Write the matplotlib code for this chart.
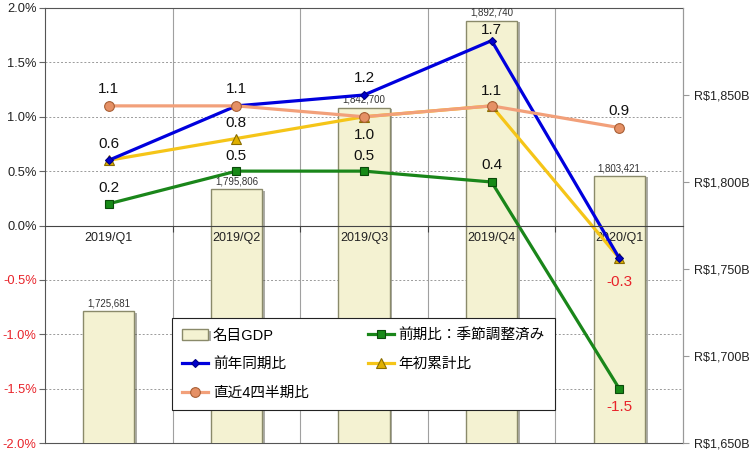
import matplotlib
matplotlib.use('Agg')
import matplotlib.pyplot as plt
import matplotlib.patheffects as pe

plt.rcParams['font.family'] = ['Liberation Sans', 'Noto Sans CJK JP', 'DejaVu Sans']

# data
categories = ['2019/Q1', '2019/Q2', '2019/Q3', '2019/Q4', '2020/Q1']
gdp = [1725681, 1795806, 1842700, 1892740, 1803421]   # R$ millions
qoq_sa = [0.2, 0.5, 0.5, 0.4, -1.5]
yoy = [0.6, 1.1, 1.2, 1.7, -0.3]
ytd = [0.6, 0.8, 1.0, 1.1, -0.3]
last4q = [1.1, 1.1, 1.0, 1.1, 0.9]
pct_ticks = [-2.0, -1.5, -1.0, -0.5, 0.0, 0.5, 1.0, 1.5, 2.0]
gdp_ticks = [1650000, 1700000, 1750000, 1800000, 1850000]

name_gdp = '名目GDP'
name_qoq = '前期比：季節調整済み'
name_yoy = '前年同期比'
name_ytd = '年初累計比'
name_l4q = '直近4四半期比'

# label offsets in points (None = no label)
off_yoy = [12, 12, 12, 8, -17]
off_ytd = [None, 11, -13, None, None]
off_l4q = [12, None, None, 11, 12]
off_qoq = [11, 11, 11, 12, -13]

x = list(range(len(categories)))

fig = plt.figure(figsize=(7.51, 4.65), dpi=100)
ax = fig.add_axes([0.0599, 0.0473, 0.8496, 0.9355])
ax.set_xlim(-0.5, 4.5)
ax.set_ylim(-2.0, 2.0)
ax.set_yticks(pct_ticks, labels=['{:.1f}%'.format(v) for v in pct_ticks])
for lbl, v in zip(ax.get_yticklabels(), pct_ticks):
    lbl.set_color('#e8232a' if v < 0 else '#222222')
ax.tick_params(axis='y', length=4, color='#666666', labelsize=9.3, pad=2)
ax.set_xticks([0.5, 1.5, 2.5, 3.5])
ax.tick_params(axis='x', which='both', bottom=False, labelbottom=False)
ax.grid(axis='x', color='#a0a0a0', lw=0.8, ls='-')
ax.grid(axis='y', color='#9a9a9a', lw=0.7, ls=(0, (2, 2)))
for s in ax.spines.values():
    s.set_color('#555555')
ax.spines['right'].set_color('#999999')

# bars on the right axis
ax2 = ax.twinx()
ax2.set_ylim(1650000, 1900000)
bars = ax2.bar(x, gdp, width=0.4, color='#f4f2d2', edgecolor='#8a8a6a', lw=1.0,
               label=name_gdp,
               path_effects=[pe.SimplePatchShadow(offset=(2, -1), alpha=0.45), pe.Normal()])
ax2.bar_label(bars, labels=['{:,}'.format(v) for v in gdp], fontsize=7, padding=2, color='#333333')
ax2.set_yticks(gdp_ticks, labels=['R${:,.0f}B'.format(v / 1000) for v in gdp_ticks])
ax2.tick_params(axis='y', length=4, color='#999999', labelsize=9, pad=4, labelcolor='#222222')
for k in ['top', 'left', 'bottom']:
    ax2.spines[k].set_visible(False)
ax2.spines['right'].set_color('#999999')

# lines on top layer
ax3 = ax.twinx()
ax3.set_ylim(-2.0, 2.0)
ax3.yaxis.set_visible(False)
ax3.xaxis.set_visible(True)
for k in ['top', 'left', 'right']:
    ax3.spines[k].set_visible(False)
ax3.spines['bottom'].set_position(('data', 0))
ax3.spines['bottom'].set_color('#444444')
ax3.set_xticks(x, labels=categories, minor=True)
ax3.tick_params(axis='x', which='minor', length=0, labelsize=9, pad=5, labelcolor='#222222')
ax3.tick_params(axis='x', which='major', length=4, direction='out', color='#444444', labelbottom=False)

l_ytd, = ax3.plot(x, ytd, color='#f5c518', lw=2.3, marker='^', ms=6.5,
                  mfc='#e0b000', mec='#8a6d00', mew=0.8, label=name_ytd)
l_yoy, = ax3.plot(x, yoy, color='#0000dd', lw=2.3, marker='D', ms=4.5,
                  mfc='#0000cc', mec='#000080', mew=0.8, label=name_yoy)
l_l4q, = ax3.plot(x, last4q, color='#f2a07a', lw=2.3, marker='o', ms=7,
                  mfc='#e59065', mec='#a85f35', mew=0.8, label=name_l4q)
l_qoq, = ax3.plot(x, qoq_sa, color='#1a861a', lw=2.3, marker='s', ms=5.5,
                  mfc='#178a17', mec='#0a4a0a', mew=0.8, label=name_qoq)

for vals, offs in [(yoy, off_yoy), (ytd, off_ytd), (last4q, off_l4q), (qoq_sa, off_qoq)]:
    for i, (v, o) in enumerate(zip(vals, offs)):
        if o is None:
            continue
        ax3.annotate('{:.1f}'.format(v), (i, v), xytext=(0, o), textcoords='offset points',
                     ha='center', va='center', fontsize=11,
                     color='#e8232a' if v < 0 else '#111111')

leg = ax3.legend([bars, l_yoy, l_l4q, l_qoq, l_ytd],
                 [name_gdp, name_yoy, name_l4q, name_qoq, name_ytd],
                 ncol=2, loc='lower left', bbox_to_anchor=(0.199, 0.076, 0.6, 0.214),
                 mode='expand', borderaxespad=0, fontsize=10.5, handlelength=1.8,
                 handletextpad=0.3, labelspacing=1.0, borderpad=0.7,
                 fancybox=False, framealpha=1, edgecolor='#222222')
leg.get_frame().set_linewidth(0.8)

fig.savefig('out.png', dpi=100)
